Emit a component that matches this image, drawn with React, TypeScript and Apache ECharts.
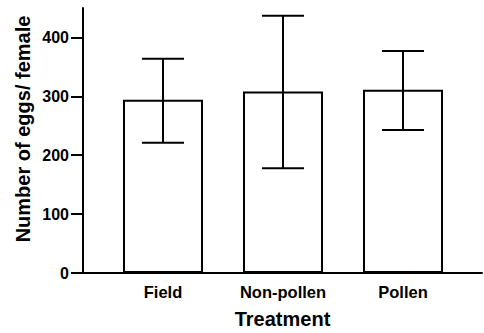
import React, { useEffect, useRef } from "react";
import * as echarts from "echarts";

const categories = ["Field", "Non-pollen", "Pollen"];
const means = [294, 308, 311];
const lower = [221, 178, 243];
const upper = [364, 437, 377];
const yTicks = [0, 100, 200, 300, 400];
const yName = "Number of eggs/ female";
const xName = "Treatment";

const FONT = "'Liberation Sans', Arial, Helvetica, sans-serif";

export default function App() {
  const ref = useRef<HTMLDivElement>(null);
  useEffect(() => {
    if (!ref.current) return;
    const chart = echarts.init(ref.current, undefined, { renderer: "svg" });
    const capHalf = 21;
    chart.setOption({
      animation: false,
      backgroundColor: "#ffffff",
      grid: [
        { left: 103, right: 21, top: 8, bottom: 60 },
        { left: 83, right: 2, top: 8, bottom: 60 },
      ],
      xAxis: [
        {
          type: "category",
          gridIndex: 0,
          data: categories,
          axisLine: { show: false },
          axisTick: { show: false },
          axisLabel: {
            color: "#000",
            fontFamily: FONT,
            fontWeight: "bold",
            fontSize: 16.5,
            margin: 10,
          },
        },
        {
          type: "value",
          gridIndex: 1,
          min: 0,
          max: 1,
          axisLine: { show: true, lineStyle: { color: "#000", width: 2 } },
          axisTick: { show: false },
          axisLabel: { show: false },
          splitLine: { show: false },
        },
      ],
      yAxis: [
        {
          type: "value",
          gridIndex: 0,
          min: 0,
          max: 450,
          show: false,
          splitLine: { show: false },
        },
        {
          type: "value",
          gridIndex: 1,
          min: 0,
          max: 450,
          axisLine: { show: true, lineStyle: { color: "#000", width: 2 } },
          axisTick: {
            show: true,
            length: 12,
            customValues: yTicks,
            lineStyle: { color: "#000", width: 2 },
          },
          axisLabel: {
            customValues: yTicks,
            color: "#000",
            fontFamily: FONT,
            fontWeight: "bold",
            fontSize: 16,
            margin: 14,
          },
          splitLine: { show: false },
        },
      ],
      series: [
        {
          type: "bar",
          xAxisIndex: 0,
          yAxisIndex: 0,
          data: means,
          barWidth: 80,
          itemStyle: { color: "#ffffff", borderColor: "#000", borderWidth: 2 },
        },
        {
          type: "custom",
          xAxisIndex: 0,
          yAxisIndex: 0,
          data: categories.map((_, i) => [i, lower[i], upper[i]]),
          renderItem: (params: any, api: any) => {
            const x = api.value(0);
            const lo = api.coord([x, api.value(1)]);
            const hi = api.coord([x, api.value(2)]);
            const style = { stroke: "#000", lineWidth: 2 };
            return {
              type: "group",
              children: [
                { type: "line", shape: { x1: lo[0], y1: lo[1], x2: hi[0], y2: hi[1] }, style },
                { type: "line", shape: { x1: lo[0] - capHalf, y1: lo[1], x2: lo[0] + capHalf, y2: lo[1] }, style },
                { type: "line", shape: { x1: hi[0] - capHalf, y1: hi[1], x2: hi[0] + capHalf, y2: hi[1] }, style },
              ],
            };
          },
          z: 5,
        },
      ],
      graphic: [
        {
          type: "text",
          x: 23,
          y: 129,
          rotation: Math.PI / 2,
          style: {
            text: yName,
            fontFamily: FONT,
            fontWeight: "bold",
            fontSize: 20,
            fill: "#000",
            align: "center",
            verticalAlign: "middle",
          },
        },
        {
          type: "text",
          x: 282.5,
          y: 309,
          style: {
            text: xName,
            fontFamily: FONT,
            fontWeight: "bold",
            fontSize: 20,
            fill: "#000",
            align: "center",
            verticalAlign: "top",
          },
        },
      ],
    });
    return () => chart.dispose();
  }, []);
  return <div ref={ref} style={{ width: 484, height: 333, position: "absolute", left: 0, top: 0 }} />;
}
